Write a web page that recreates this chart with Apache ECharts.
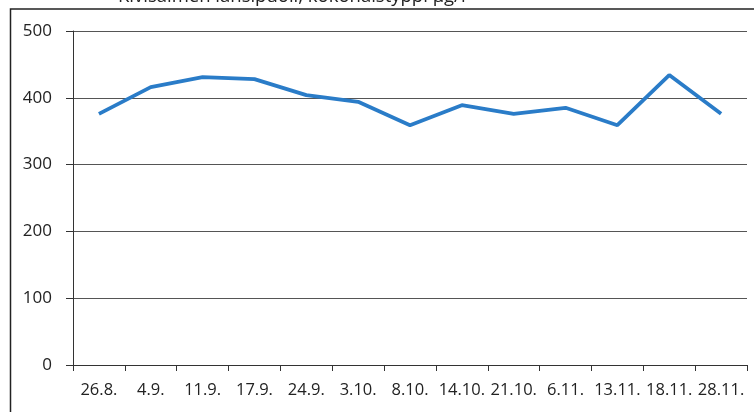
<!DOCTYPE html>
<html><head><meta charset="utf-8">
<script src="https://cdn.jsdelivr.net/npm/echarts@6/dist/echarts.min.js"></script>
<style>html,body{margin:0;padding:0;background:#fff}#c{width:754px;height:412px}</style>
</head><body><div id="c"></div>
<script>
const titleText = 'Kivisalmen länsipuoli, kokonaistyppi µg/l';
const categories = ['26.8.','4.9.','11.9.','17.9.','24.9.','3.10.','8.10.','14.10.','21.10.','6.11.','13.11.','18.11.','28.11.'];
const values = [376, 416, 431, 428, 404, 394, 359, 389, 376, 385, 359, 434, 376];
const yTicks = {min: 0, max: 500, interval: 100};
const FONT = 'Open Sans';
const chart = echarts.init(document.getElementById('c'));
chart.setOption({
  animation: false,
  backgroundColor: '#fff',
  graphic: [
    {type: 'rect', shape: {x: 10.5, y: 9, width: 800, height: 500}, style: {fill: 'none', stroke: '#222', lineWidth: 1.5}, z: 0},
    {type: 'text', left: 118, top: -13, style: {text: titleText, font: '18.5px "' + FONT + '"', fill: '#222'}}
  ],
  grid: {left: 73, right: 7, top: 31, bottom: 47, containLabel: false},
  xAxis: {
    type: 'category', data: categories, boundaryGap: true,
    axisLine: {lineStyle: {color: '#333', width: 1}},
    axisTick: {show: true, length: 6, lineStyle: {color: '#333'}},
    axisLabel: {color: '#222', fontFamily: FONT, fontSize: 16.5, margin: 17, interval: 0}
  },
  yAxis: {
    type: 'value', min: yTicks.min, max: yTicks.max, interval: yTicks.interval,
    axisLine: {show: true, lineStyle: {color: '#333', width: 1}},
    axisTick: {show: true, length: 7, lineStyle: {color: '#333'}},
    axisLabel: {color: '#222', fontFamily: FONT, fontSize: 17, margin: 21},
    splitLine: {lineStyle: {color: '#555', width: 1}}
  },
  series: [{
    type: 'line', data: values, showSymbol: false, symbol: 'none',
    lineStyle: {color: '#2a7cc8', width: 3.8}
  }]
});
</script></body></html>
